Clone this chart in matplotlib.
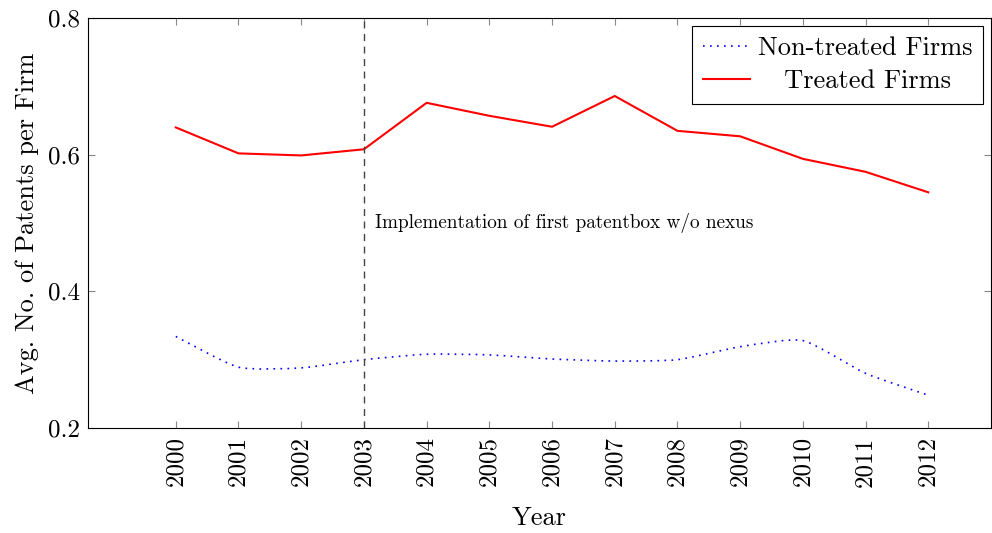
import numpy as np
import matplotlib
matplotlib.use("Agg")
import matplotlib.pyplot as plt
from matplotlib.path import Path
from matplotlib.patches import PathPatch
from matplotlib.lines import Line2D

plt.rcParams['font.family'] = 'serif'
plt.rcParams['font.serif'] = ['cmr10', 'DejaVu Serif']
plt.rcParams['mathtext.fontset'] = 'cm'
plt.rcParams['axes.formatter.use_mathtext'] = True

# ── DATA ──────────────────────────────────────────────────────────────────────
years = [2000, 2001, 2002, 2003, 2004, 2005, 2006,
         2007, 2008, 2009, 2010, 2011, 2012]
non_treated = [0.334, 0.289, 0.288, 0.300, 0.308, 0.307, 0.301,
               0.298, 0.300, 0.319, 0.328, 0.280, 0.248]
treated = [0.640, 0.602, 0.599, 0.608, 0.676, 0.657, 0.641,
           0.686, 0.635, 0.627, 0.594, 0.575, 0.545]
event_year = 2003
event_text = "Implementation of first patentbox w/o nexus"


def smooth_path(xs, ys, tension=0.3):
    # pgfplots-style "smooth": cubic bezier segments through the data points
    p = np.column_stack([xs, ys]).astype(float)
    n = len(p)
    verts = [p[0]]
    codes = [Path.MOVETO]
    for i in range(n - 1):
        prev = p[i - 1] if i > 0 else p[i]
        nxt = p[i + 2] if i + 2 < n else p[i + 1]
        c1 = p[i] + (p[i + 1] - prev) * tension / 3
        c2 = p[i + 1] - (nxt - p[i]) * tension / 3
        verts += [c1, c2, p[i + 1]]
        codes += [Path.CURVE4] * 3
    return Path(verts, codes)


# ── PLOT ──────────────────────────────────────────────────────────────────────
fig = plt.figure(figsize=(9.92, 5.33), dpi=100)
ax = fig.add_axes([0.0887, 0.197, 0.9103, 0.769])

blue_style = dict(color='blue', linewidth=1.2, linestyle=(0, (1, 3.2)))
patch = PathPatch(smooth_path(years, non_treated), fill=False, **blue_style)
ax.add_patch(patch)
ax.plot(years, treated, color='red', linewidth=1.5)

ax.axvline(event_year, color='#444444', linewidth=1.0, linestyle=(0, (5, 4)))
ax.text(event_year + 0.18, 0.5, event_text, fontsize=13.8, va='center', ha='left')

ax.set_xlim(1998.6, 2013.0)
ax.set_ylim(0.2, 0.8)
ax.set_xticks(years)
ax.set_xticklabels([str(y) for y in years], rotation=90)
ax.set_yticks([0.2, 0.4, 0.6, 0.8])
ax.set_yticklabels(['0.2', '0.4', '0.6', '0.8'])
ax.tick_params(direction='in', length=5, color='#888888', labelsize=18,
               top=True, right=True, pad=6)

ax.set_xlabel('Year', fontsize=19, labelpad=14)
ax.set_ylabel('Avg. No. of Patents per Firm', fontsize=19, labelpad=6)

for spine in ax.spines.values():
    spine.set_linewidth(0.8)

handles = [Line2D([], [], **blue_style),
           Line2D([], [], color='red', linewidth=1.5)]
leg = ax.legend(handles, ['Non-treated Firms', '   Treated Firms'],
                loc='upper right', fontsize=19, fancybox=False,
                edgecolor='black', framealpha=1, borderpad=0.4,
                labelspacing=0.35, handlelength=1.8, handletextpad=0.3,
                borderaxespad=0.3)
leg.get_frame().set_linewidth(0.8)

fig.savefig('out.png', dpi=100)
